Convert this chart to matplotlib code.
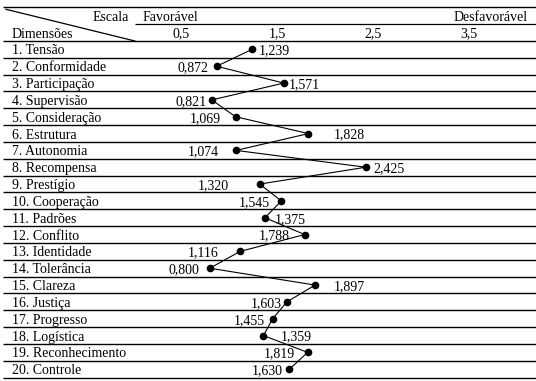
import matplotlib
matplotlib.use("Agg")
import matplotlib.pyplot as plt

plt.rcParams['font.family'] = ['Liberation Serif', 'DejaVu Serif']

dimensions = ["1. Tensão", "2. Conformidade", "3. Participação", "4. Supervisão",
              "5. Consideração", "6. Estrutura", "7. Autonomia", "8. Recompensa",
              "9. Prestígio", "10. Cooperação", "11. Padrões", "12. Conflito",
              "13. Identidade", "14. Tolerância", "15. Clareza", "16. Justiça",
              "17. Progresso", "18. Logística", "19. Reconhecimento", "20. Controle"]
scores = [1.239, 0.872, 1.571, 0.821, 1.069, 1.828, 1.074, 2.425, 1.320, 1.545,
          1.375, 1.788, 1.116, 0.800, 1.897, 1.603, 1.455, 1.359, 1.819, 1.630]
scale_ticks = [0.5, 1.5, 2.5, 3.5]
tick_labels = ["0,5", "1,5", "2,5", "3,5"]

# gap (px) between dot and its value label; negative = label on the left
label_gap = [6.7, -7.7, 4.7, -4.7, -14.3, 25.3, -17, 8, -31.3, -11.3,
             9.4, -15.3, -21.3, -10.3, 18.3, -5, -8, 17.7, -12.3, -6.7]

FS = 10
X0, X1 = -1.385, 4.198   # figure edges in scale units
LEFT = -1.26             # left column text

fig = plt.figure(figsize=(5.36, 3.81), dpi=100)
ax = fig.add_axes([0, 0, 1, 1])
ax.set_xlim(X0, X1)
ax.set_ylim(20.20, -2.436)
ax.axis('off')

# table rules
ax.hlines([-2, 0] + list(range(1, 21)), -1.354, X1, color='black', lw=1.0)
ax.hlines(-1, 0.02, X1, color='black', lw=0.9)
ax.plot([-1.323, 0.02], [-1.884, 0], color='black', lw=0.9)

# header
ax.text(-0.04, -1.2, "Escala", ha='right', va='baseline', fontsize=FS)
ax.text(0.104, -1.2, "Favorável", ha='left', va='baseline', fontsize=FS)
ax.text(4.115, -1.2, "Desfavorável", ha='right', va='baseline', fontsize=FS)
ax.text(LEFT, -0.2, "Dimensões", ha='left', va='baseline', fontsize=FS)
for t, lab in zip(scale_ticks, tick_labels):
    ax.text(t, -0.2, lab, ha='center', va='baseline', fontsize=FS)

rows = [i + 0.5 for i in range(len(dimensions))]
for r, name in zip(rows, dimensions):
    ax.text(LEFT, r + 0.3, name, ha='left', va='baseline', fontsize=FS)

ax.plot(scores, rows, color='black', lw=0.8, marker='o', markersize=4.5, zorder=3)

for v, r, gap in zip(scores, rows, label_gap):
    ax.annotate(f"{v:.3f}".replace('.', ','), xy=(v, r), xytext=(gap, -5),
                textcoords='offset pixels', ha='left' if gap > 0 else 'right',
                va='baseline', fontsize=FS)

fig.savefig("out.png", dpi=100)
